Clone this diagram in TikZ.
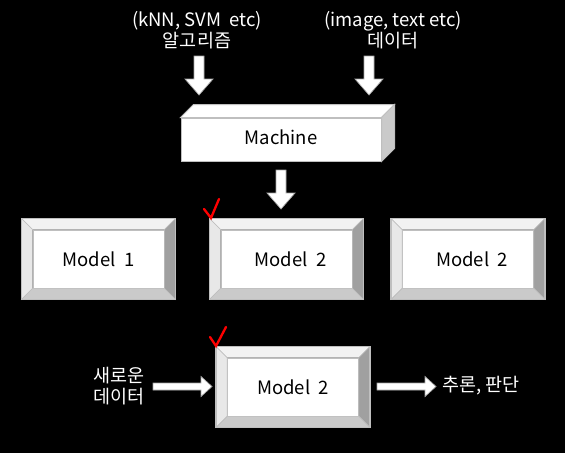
\documentclass[tikz,border=0pt]{standalone}
\usepackage{fontspec}
\setmainfont{Noto Sans CJK KR}
\usetikzlibrary{calc}
\definecolor{edge}{HTML}{BFBFBF}
\definecolor{bvlight}{HTML}{F2F2F2}
\definecolor{bvleft}{HTML}{E8E8E8}
\definecolor{bvright}{HTML}{A0A0A0}
\definecolor{bvbottom}{HTML}{CACACA}
\definecolor{arrowedge}{HTML}{A6A6A6}
\definecolor{checkred}{HTML}{FF0000}
\tikzset{
  lbl/.style={text=white, align=center, font=\fontsize{18.5}{21}\selectfont, inner sep=0pt},
  face/.style={fill=white, draw=edge, line width=0.8pt, inner sep=0pt,
    minimum width=131pt, minimum height=58pt, font=\fontsize{18.5}{20}\selectfont, text=black},
  machbox/.style={fill=white, draw=edge, line width=1pt, inner sep=0pt,
    minimum width=200pt, minimum height=43pt, font=\fontsize{18.5}{20}\selectfont, text=black},
  blockarr/.style={fill=white, draw=arrowedge, line width=0.7pt, line join=miter},
  checkmark/.style={draw=checkred, line width=2.3pt, line join=miter, line cap=round},
  downarr/.pic={\draw[blockarr] (-5,0) -- (5,0) -- (5,23) -- (14,23) -- (0,39) -- (-14,23) -- (-5,23) -- cycle;},
  rightarr/.pic={\draw[blockarr] (0,-3.5) -- (48,-3.5) -- (48,-10) -- (59,0) -- (48,10) -- (48,3.5) -- (0,3.5) -- cycle;}
}
\newcommand\bevelbox[1]{%
  \fill[bvlight,draw=edge,line width=0.5pt] (#1.north west) -- ([shift={(-11,-11)}]#1.north west) -- ([shift={(11,-11)}]#1.north east) -- (#1.north east) -- cycle;
  \fill[bvleft,draw=edge,line width=0.5pt] (#1.north west) -- ([shift={(-11,-11)}]#1.north west) -- ([shift={(-11,11)}]#1.south west) -- (#1.south west) -- cycle;
  \fill[bvright,draw=edge,line width=0.5pt] (#1.north east) -- ([shift={(11,-11)}]#1.north east) -- ([shift={(11,11)}]#1.south east) -- (#1.south east) -- cycle;
  \fill[bvbottom,draw=edge,line width=0.5pt] (#1.south west) -- ([shift={(-11,11)}]#1.south west) -- ([shift={(11,11)}]#1.south east) -- (#1.south east) -- cycle;
  \draw[edge,line width=1.5pt] ([shift={(-11,-11)}]#1.north west) rectangle ([shift={(11,11)}]#1.south east);
}
\begin{document}
\begin{tikzpicture}[x=1pt,y=-1pt]
\fill[black] (0,0) rectangle (565,453);
\useasboundingbox (0,0) rectangle (565,453);

% top labels
\node[lbl] (alg) at (197,30) {(kNN, SVM\ \ etc)\\알고리즘};
\node[lbl] (dat) at (393,30) {(image, text etc)\\데이터};

% machine
\node[machbox] (mach) at (281,139.5) {\raisebox{4pt}{Machine}};
\fill[white,draw=edge,line width=1pt] (mach.north west) -- ++(13,-13) -- ([shift={(13,-13)}]mach.north east) -- (mach.north east) -- cycle;
\fill[bvbottom,draw=edge,line width=1pt] (mach.north east) -- ++(13,-13) -- ([shift={(13,-13)}]mach.south east) -- (mach.south east) -- cycle;

% arrows into / out of machine
\pic at (199,56) {downarr};
\pic at (369,56) {downarr};
\pic at (281,170) {downarr};

% models
\node[face] (m1) at (98.5,259) {Model\ \ 1};
\bevelbox{m1}
\node[face] (m2) at (286.5,259) {\ \ Model\ \ 2};
\bevelbox{m2}
\node[face] (m3) at (468,259) {\ \ Model\ \ 2};
\bevelbox{m3}

% inference
\node[face] (m4) at (293,387) {Model\ \ 2};
\bevelbox{m4}
\node[lbl] (new) at (119,386) {새로운\\데이터};
\node[lbl, anchor=west] (out) at (442,386) {추론, 판단};
\pic at (153,386.5) {rightarr};
\pic at (377,386.5) {rightarr};

% check marks
\draw[checkmark] (204,209) -- (211,218) -- (219,199);
\draw[checkmark] (210,337) -- (216,346) -- (226,327);
\end{tikzpicture}
\end{document}
